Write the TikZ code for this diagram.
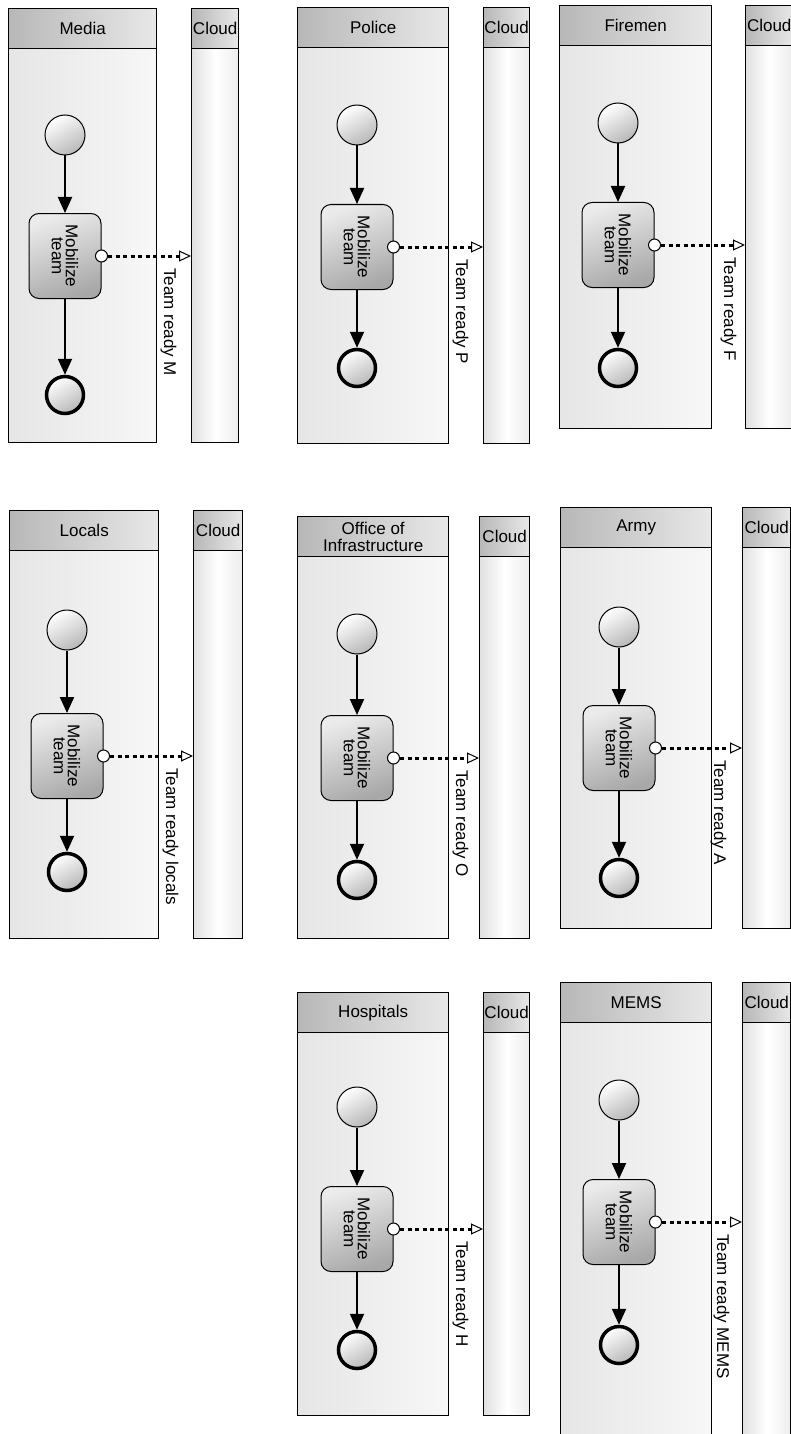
\documentclass[tikz,border=0pt]{standalone}
\usepackage{fontspec}
\setmainfont{Liberation Sans}
\usetikzlibrary{arrows.meta,calc}

\tikzset{
  poolhead/.style={draw, line width=1.4pt, left color=black!28, right color=black!9,
    anchor=north west, minimum height=40pt, inner sep=0pt, align=center,
    font=\fontsize{17}{17}\selectfont},
  poolbody/.style={draw, line width=1.4pt, left color=black!10, right color=black!3,
    anchor=north west, inner sep=0pt},
  cloudhead/.style={poolhead},
  cloudbody/.style={draw, line width=1.4pt, left color=black!12, right color=black!7,
    middle color=white, anchor=north west, inner sep=0pt},
  startev/.style={circle, draw, line width=1pt, minimum size=40pt, inner sep=0pt,
    top color=white, bottom color=black!28, shading angle=30},
  endev/.style={startev, line width=3.5pt, minimum size=37pt},
  taskbox/.style={rectangle, rounded corners=10pt, draw, line width=1pt,
    minimum width=72pt, minimum height=85pt, inner sep=0pt,
    top color=black!8, bottom color=black!34, shading angle=20},
  tasktext/.style={rotate=-90, align=center, inner sep=0pt,
    font=\fontsize{17}{14}\selectfont},
  port/.style={circle, draw, line width=1pt, fill=white, minimum size=12pt, inner sep=0pt},
  seqflow/.style={line width=2pt, -{Triangle[length=16pt, width=14pt]}},
  msgflow/.style={line width=3pt, dash pattern=on 4pt off 3.5pt,
    -{Triangle[open, length=12pt, width=11pt, line width=1pt, fill=white]}},
  msglabel/.style={rotate=-90, anchor=south west, inner sep=0pt,
    font=\fontsize{17}{17}\selectfont},
}

\begin{document}
\begin{tikzpicture}[x=1pt, y=-1pt]
  \useasboundingbox[fill=white] (0,0) rectangle (790,1434);

  % index/title/pool left/top/width/height/cloud left/cloud width/flow x/start y/task y/end y/label dx/label tag
  \foreach \i/\name/\L/\T/\W/\H/\cL/\cW/\fx/\sy/\ty/\ey/\ldx/\tag in {
      1/Media/8/8/148/434/191/47/65/135/256/395/59/M,
      2/Police/297/7/151/436/483/46/357/125/247/368/59/P,
      3/Firemen/559/5/152/423/745/47/618/123/245/368/66/F,
      4/Locals/9/510/149/428/193/49/67/630/756/872/59/locals,
      5/{Office of\\Infrastructure}/297/516/151/422/479/50/357/634/758/880/59/O,
      6/Army/560/507/151/421/742/48/619/627/748/878/55/A,
      7/Hospitals/297/992/151/423/483/46/357/1107/1229/1350/59/H,
      8/MEMS/560/982/151/470/742/48/619/1100/1222/1345/58/MEMS}{
    \node[poolhead, minimum width=\W] (head\i) at (\L,\T) {\name};
    \node[poolbody, minimum width=\W, minimum height=\H-40] (pool\i) at (\L,\T+40) {};
    \node[cloudhead, minimum width=\cW] (chead\i) at (\cL,\T) {Cloud};
    \node[cloudbody, minimum width=\cW, minimum height=\H-40] (cloud\i) at (\cL,\T+40) {};

    \node[startev] (start\i) at (\fx,\sy) {};
    \node[taskbox] (task\i) at (\fx,\ty) {};
    \node[tasktext] (ttext\i) at (task\i) {Mobilize\\team};
    \node[port] (port\i) at (task\i.east) {};
    \node[endev] (end\i) at (\fx,\ey) {};

    \draw[seqflow] (start\i) -- (task\i);
    \draw[seqflow] (task\i) -- (end\i);
    \draw[msgflow] (port\i) -- (port\i -| cloud\i.west);
    \node[msglabel] (msg\i) at ($(port\i)+(\ldx,12)$) {Team ready \tag};
  }
\end{tikzpicture}
\end{document}
